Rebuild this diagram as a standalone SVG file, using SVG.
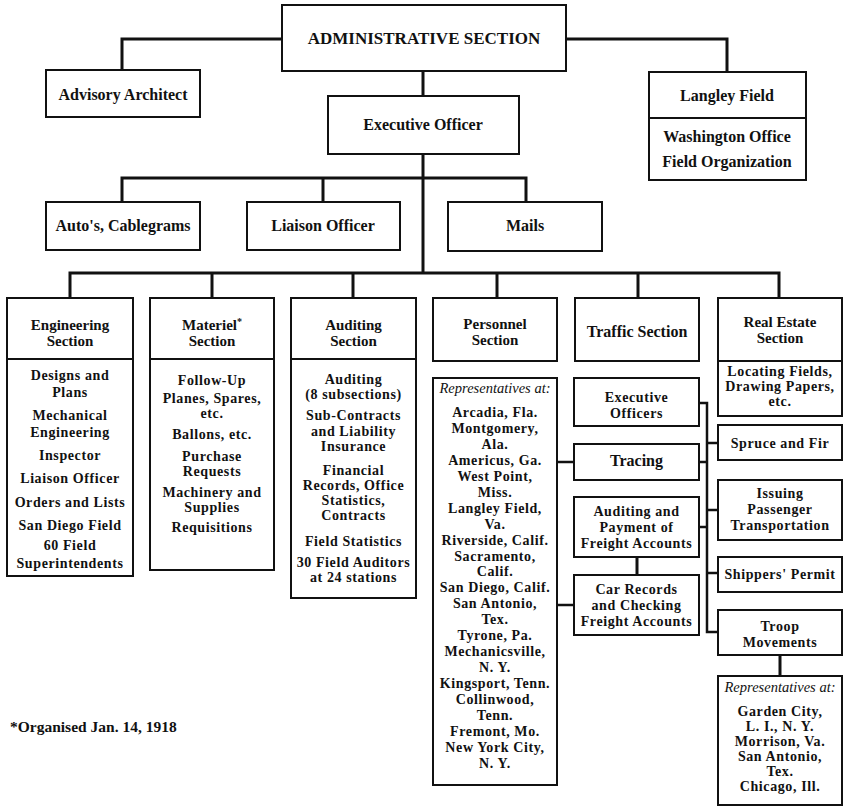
<svg xmlns="http://www.w3.org/2000/svg" width="844" height="808" viewBox="0 0 844 808">
<style>
  .bx { fill: #fff; stroke: #111; stroke-width: 2; }
  .dv { stroke: #111; stroke-width: 2; fill: none; }
  .cn { stroke: #111; stroke-width: 3; fill: none; stroke-linejoin: miter; }
  .cs { stroke: #111; stroke-width: 2.5; fill: none; }
  text { font-family: "Liberation Serif", "Times New Roman", serif; font-weight: bold; font-size: 16px; fill: #111; text-anchor: middle; }
  .ttl { font-size: 17px; }
  .hd { font-size: 15px; }
  .d { font-size: 14px; letter-spacing: 0.6px; }
  .it { font-style: italic; font-weight: normal; font-size: 14.5px; }
  .fn { text-anchor: start; font-size: 15.5px; }
  .sup { font-size: 10px; }
</style>
<rect width="844" height="808" fill="#fff"/>

<g id="connectors">
  <path class="cn" d="M282,39 H122 V70"/>
  <path class="cn" d="M566,39 H727 V72"/>
  <path class="cn" d="M423,71 V96"/>
  <path class="cn" d="M423,154 V273"/>
  <path class="cn" d="M122,202 V178 H526 V202"/>
  <path class="cn" d="M323,178 V202"/>
  <path class="cn" d="M70,298 V273 H779 V298"/>
  <path class="cn" d="M212,273 V298"/>
  <path class="cn" d="M353,273 V298"/>
  <path class="cn" d="M497,273 V298"/>
  <path class="cn" d="M638,273 V298"/>
  <path class="cs" d="M557,462 H574"/>
  <path class="cs" d="M557,605 H574"/>
  <path class="cn" d="M637,557 V575"/>
  <path class="cs" d="M699,403 H707 V632 H718"/>
  <path class="cs" d="M699,462 H707"/>
  <path class="cs" d="M699,527 H707"/>
  <path class="cs" d="M707,443 H718"/>
  <path class="cs" d="M707,510 H718"/>
  <path class="cs" d="M707,573 H718"/>
  <path class="cn" d="M780,655 V676"/>
</g>

<g id="admin">
  <rect class="bx" x="282" y="5" width="284" height="66"/>
  <text class="ttl" x="424" y="44">ADMINISTRATIVE SECTION</text>
</g>
<g id="advisory">
  <rect class="bx" x="46" y="70" width="154" height="47"/>
  <text x="123" y="100">Advisory Architect</text>
</g>
<g id="langley">
  <rect class="bx" x="649" y="72" width="157" height="108"/>
  <line class="dv" x1="649" y1="118" x2="806" y2="118"/>
  <text x="727" y="101">Langley Field</text>
  <text x="727" y="142">Washington Office</text>
  <text x="727" y="167">Field Organization</text>
</g>
<g id="exec">
  <rect class="bx" x="328" y="96" width="191" height="58"/>
  <text x="423" y="130">Executive Officer</text>
</g>
<g id="autos">
  <rect class="bx" x="46" y="202" width="154" height="48"/>
  <text x="123" y="231">Auto's, Cablegrams</text>
</g>
<g id="liaison">
  <rect class="bx" x="247" y="202" width="153" height="48"/>
  <text x="323" y="231">Liaison Officer</text>
</g>
<g id="mails">
  <rect class="bx" x="448" y="202" width="154" height="49"/>
  <text x="525" y="231">Mails</text>
</g>

<g id="engineering">
  <rect class="bx" x="7" y="298" width="126" height="278"/>
  <line class="dv" x1="7" y1="359" x2="133" y2="359"/>
  <text class="hd" x="70" y="330">Engineering</text>
  <text class="hd" x="70" y="346">Section</text>
  <text class="d" x="70" y="380">Designs and</text>
  <text class="d" x="70" y="397">Plans</text>
  <text class="d" x="70" y="420">Mechanical</text>
  <text class="d" x="70" y="437">Engineering</text>
  <text class="d" x="70" y="460">Inspector</text>
  <text class="d" x="70" y="483">Liaison Officer</text>
  <text class="d" x="70" y="507">Orders and Lists</text>
  <text class="d" x="70" y="530">San Diego Field</text>
  <text class="d" x="70" y="550">60 Field</text>
  <text class="d" x="70" y="568">Superintendents</text>
</g>

<g id="materiel">
  <rect class="bx" x="150" y="298" width="124" height="272"/>
  <line class="dv" x1="150" y1="359" x2="274" y2="359"/>
  <text class="hd" x="212" y="330">Materiel<tspan class="sup" dy="-5">*</tspan></text>
  <text class="hd" x="212" y="346">Section</text>
  <text class="d" x="212" y="385">Follow-Up</text>
  <text class="d" x="212" y="403">Planes, Spares,</text>
  <text class="d" x="212" y="418">etc.</text>
  <text class="d" x="212" y="439">Ballons, etc.</text>
  <text class="d" x="212" y="461">Purchase</text>
  <text class="d" x="212" y="476">Requests</text>
  <text class="d" x="212" y="497">Machinery and</text>
  <text class="d" x="212" y="512">Supplies</text>
  <text class="d" x="212" y="532">Requisitions</text>
</g>

<g id="auditing">
  <rect class="bx" x="291" y="298" width="125" height="300"/>
  <line class="dv" x1="291" y1="359" x2="416" y2="359"/>
  <text class="hd" x="353.5" y="330">Auditing</text>
  <text class="hd" x="353.5" y="346">Section</text>
  <text class="d" x="353.5" y="384">Auditing</text>
  <text class="d" x="353.5" y="399">(8 subsections)</text>
  <text class="d" x="353.5" y="420">Sub-Contracts</text>
  <text class="d" x="353.5" y="436">and Liability</text>
  <text class="d" x="353.5" y="451">Insurance</text>
  <text class="d" x="353.5" y="475">Financial</text>
  <text class="d" x="353.5" y="490">Records, Office</text>
  <text class="d" x="353.5" y="505">Statistics,</text>
  <text class="d" x="353.5" y="520">Contracts</text>
  <text class="d" x="353.5" y="546">Field Statistics</text>
  <text class="d" x="353.5" y="567">30 Field Auditors</text>
  <text class="d" x="353.5" y="582">at 24 stations</text>
</g>

<g id="personnel">
  <rect class="bx" x="433" y="298" width="124" height="63"/>
  <text class="hd" x="495" y="329">Personnel</text>
  <text class="hd" x="495" y="345">Section</text>
</g>
<g id="personnel-reps">
  <rect class="bx" x="433" y="378" width="124" height="407"/>
  <text class="it" x="495" y="393">Representatives at:</text>
  <text class="d" x="495" y="417">Arcadia, Fla.</text>
  <text class="d" x="495" y="433">Montgomery,</text>
  <text class="d" x="495" y="449">Ala.</text>
  <text class="d" x="495" y="465">Americus, Ga.</text>
  <text class="d" x="495" y="481">West Point,</text>
  <text class="d" x="495" y="497">Miss.</text>
  <text class="d" x="495" y="513">Langley Field,</text>
  <text class="d" x="495" y="529">Va.</text>
  <text class="d" x="495" y="545">Riverside, Calif.</text>
  <text class="d" x="495" y="561">Sacramento,</text>
  <text class="d" x="495" y="576">Calif.</text>
  <text class="d" x="495" y="592">San Diego, Calif.</text>
  <text class="d" x="495" y="608">San Antonio,</text>
  <text class="d" x="495" y="624">Tex.</text>
  <text class="d" x="495" y="640">Tyrone, Pa.</text>
  <text class="d" x="495" y="656">Mechanicsville,</text>
  <text class="d" x="495" y="672">N. Y.</text>
  <text class="d" x="495" y="688">Kingsport, Tenn.</text>
  <text class="d" x="495" y="704">Collinwood,</text>
  <text class="d" x="495" y="720">Tenn.</text>
  <text class="d" x="495" y="736">Fremont, Mo.</text>
  <text class="d" x="495" y="752">New York City,</text>
  <text class="d" x="495" y="768">N. Y.</text>
</g>

<g id="traffic">
  <rect class="bx" x="575" y="298" width="124" height="63"/>
  <text x="637" y="337">Traffic Section</text>
</g>
<g id="exec-officers">
  <rect class="bx" x="574" y="378" width="125" height="48"/>
  <text class="d" x="636.5" y="402">Executive</text>
  <text class="d" x="636.5" y="418">Officers</text>
</g>
<g id="tracing">
  <rect class="bx" x="574" y="444" width="125" height="36"/>
  <text x="636.5" y="466">Tracing</text>
</g>
<g id="aud-pay">
  <rect class="bx" x="574" y="497" width="125" height="60"/>
  <text class="d" x="636.5" y="516">Auditing and</text>
  <text class="d" x="636.5" y="532">Payment of</text>
  <text class="d" x="636.5" y="548">Freight Accounts</text>
</g>
<g id="car-records">
  <rect class="bx" x="574" y="575" width="125" height="60"/>
  <text class="d" x="636.5" y="594">Car Records</text>
  <text class="d" x="636.5" y="610">and Checking</text>
  <text class="d" x="636.5" y="626">Freight Accounts</text>
</g>

<g id="real-estate">
  <rect class="bx" x="718" y="298" width="124" height="118"/>
  <line class="dv" x1="718" y1="361" x2="842" y2="361"/>
  <text class="hd" x="780" y="327">Real Estate</text>
  <text class="hd" x="780" y="343">Section</text>
  <text class="d" x="780" y="376">Locating Fields,</text>
  <text class="d" x="780" y="391">Drawing Papers,</text>
  <text class="d" x="780" y="406">etc.</text>
</g>
<g id="spruce">
  <rect class="bx" x="718" y="425" width="124" height="35"/>
  <text class="d" x="780" y="448">Spruce and Fir</text>
</g>
<g id="issuing">
  <rect class="bx" x="718" y="480" width="124" height="60"/>
  <text class="d" x="780" y="498">Issuing</text>
  <text class="d" x="780" y="514">Passenger</text>
  <text class="d" x="780" y="530">Transportation</text>
</g>
<g id="shippers">
  <rect class="bx" x="718" y="557" width="124" height="35"/>
  <text class="d" x="780" y="579">Shippers' Permit</text>
</g>
<g id="troop">
  <rect class="bx" x="718" y="610" width="124" height="45"/>
  <text class="d" x="780" y="631">Troop</text>
  <text class="d" x="780" y="647">Movements</text>
</g>
<g id="troop-reps">
  <rect class="bx" x="718" y="676" width="124" height="129"/>
  <text class="it" x="780" y="692">Representatives at:</text>
  <text class="d" x="780" y="716">Garden City,</text>
  <text class="d" x="780" y="731">L. I., N. Y.</text>
  <text class="d" x="780" y="746">Morrison, Va.</text>
  <text class="d" x="780" y="761">San Antonio,</text>
  <text class="d" x="780" y="776">Tex.</text>
  <text class="d" x="780" y="791">Chicago, Ill.</text>
</g>

<g id="footnote">
  <text class="fn" x="10" y="732">*Organised Jan. 14, 1918</text>
</g>
</svg>
